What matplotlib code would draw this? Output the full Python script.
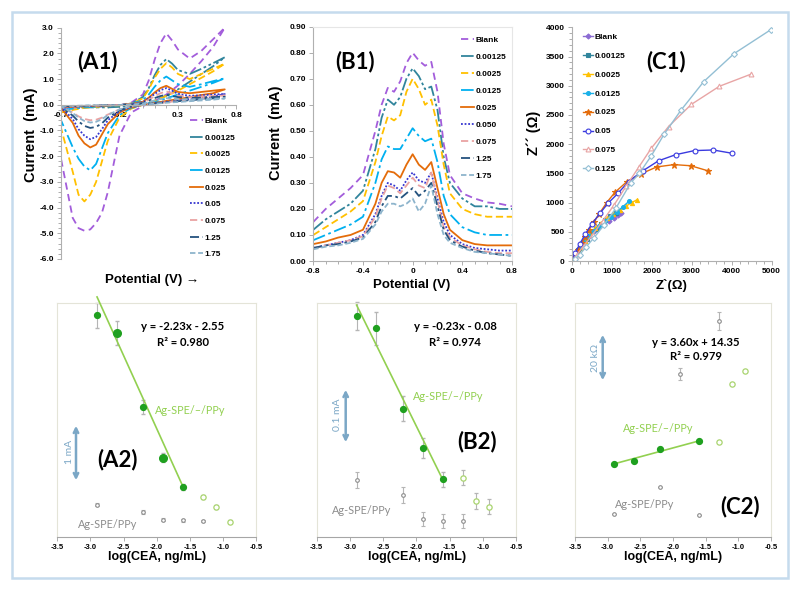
import numpy as np
import matplotlib.pyplot as plt
from matplotlib.patches import Rectangle, FancyArrowPatch
from matplotlib.ticker import MultipleLocator, FormatStrFormatter

plt.rcParams['font.family'] = ['Liberation Sans', 'DejaVu Sans']

W, H = 800, 591

# ---------------- (A1) cyclic voltammograms ----------------
# forward scan -0.7 -> 0.7 V, then reverse scan back to -0.7 V
cv_potential = [-0.7, -0.6, -0.5, -0.4, -0.3, -0.2, -0.1, 0.0, 0.05, 0.1, 0.15, 0.2, 0.25, 0.3, 0.4, 0.5, 0.6, 0.7,
                0.6, 0.5, 0.4, 0.3, 0.2, 0.1, 0.0, -0.1, -0.2, -0.3, -0.35, -0.4, -0.45, -0.5, -0.55, -0.6, -0.7]
cv_blank = [-0.15, -0.12, -0.1, -0.08, -0.05, -0.02, 0.08, 0.4, 0.95, 1.75, 2.4, 2.78, 2.5, 2.15, 1.8, 2.1, 2.55, 3.0,
            2.25, 1.7, 1.2, 0.75, 0.4, 0.15, -0.05, -0.3, -1.2, -3.4, -4.2, -4.6, -4.85, -4.9, -4.8, -4.4, -2.1]
cv_00125 = [-0.05, -0.05, -0.05, -0.04, -0.03, -0.02, 0.05, 0.3, 0.65, 1.15, 1.55, 1.78, 1.6, 1.35, 1.2, 1.4, 1.62, 1.85,
            1.5, 1.2, 0.9, 0.6, 0.35, 0.15, 0.0, -0.05, -0.08, -0.1, -0.1, -0.1, -0.1, -0.1, -0.1, -0.08, -0.06]
cv_0025 = [-0.3, -0.2, -0.12, -0.08, -0.05, -0.02, 0.05, 0.25, 0.6, 1.05, 1.4, 1.62, 1.45, 1.2, 1.0, 1.2, 1.4, 1.6,
           1.3, 1.05, 0.8, 0.55, 0.35, 0.15, 0.0, -0.15, -0.5, -1.4, -2.2, -3.0, -3.5, -3.76, -3.5, -2.6, -0.9]
cv_0125 = [-0.2, -0.15, -0.1, -0.07, -0.04, -0.02, 0.04, 0.18, 0.4, 0.7, 0.95, 1.1, 0.95, 0.8, 0.7, 0.8, 0.92, 1.03,
           0.85, 0.7, 0.55, 0.4, 0.25, 0.1, 0.0, -0.12, -0.4, -1.1, -1.7, -2.3, -2.55, -2.4, -2.1, -1.65, -0.6]
cv_025 = [-0.1, -0.08, -0.06, -0.05, -0.03, -0.01, 0.03, 0.12, 0.28, 0.48, 0.65, 0.74, 0.62, 0.5, 0.45, 0.5, 0.55, 0.6,
          0.45, 0.38, 0.3, 0.22, 0.15, 0.07, 0.0, -0.1, -0.3, -0.75, -1.15, -1.55, -1.66, -1.5, -1.2, -0.7, -0.12]
cv_05 = [-0.08, -0.07, -0.05, -0.04, -0.02, -0.01, 0.02, 0.1, 0.25, 0.42, 0.57, 0.65, 0.55, 0.42, 0.35, 0.37, 0.4, 0.42,
         0.32, 0.27, 0.22, 0.17, 0.12, 0.06, 0.0, -0.08, -0.25, -0.6, -0.95, -1.25, -1.34, -1.2, -0.95, -0.55, -0.1]
cv_075 = [-0.07, -0.06, -0.05, -0.03, -0.02, -0.01, 0.02, 0.08, 0.2, 0.33, 0.45, 0.52, 0.45, 0.36, 0.3, 0.32, 0.34, 0.36,
          0.28, 0.24, 0.2, 0.15, 0.1, 0.05, 0.0, -0.06, -0.18, -0.38, -0.5, -0.58, -0.6, -0.55, -0.45, -0.3, -0.08]
cv_125 = [-0.06, -0.05, -0.04, -0.03, -0.02, -0.01, 0.02, 0.07, 0.16, 0.26, 0.34, 0.39, 0.34, 0.3, 0.27, 0.28, 0.3, 0.31,
          0.25, 0.21, 0.18, 0.14, 0.1, 0.05, 0.0, -0.06, -0.22, -0.5, -0.72, -0.86, -0.9, -0.82, -0.65, -0.42, -0.08]
cv_175 = [-0.05, -0.04, -0.03, -0.02, -0.02, -0.01, 0.01, 0.05, 0.1, 0.17, 0.22, 0.26, 0.24, 0.22, 0.21, 0.22, 0.24, 0.25,
          0.2, 0.17, 0.14, 0.11, 0.08, 0.04, 0.0, -0.05, -0.18, -0.4, -0.56, -0.66, -0.69, -0.63, -0.5, -0.32, -0.06]
cv_labels = ["Blank", "0.00125", "0.0025", "0.0125", "0.025", "0.05", "0.075", "1.25", "1.75"]

# ---------------- (B1) differential pulse voltammograms ----------------
dpv_potential = [-0.8, -0.7, -0.6, -0.5, -0.4, -0.3, -0.25, -0.2, -0.15, -0.1, -0.05, 0.0,
                 0.05, 0.1, 0.15, 0.2, 0.25, 0.3, 0.4, 0.5, 0.6, 0.7, 0.8]
dpv_blank = [0.15, 0.2, 0.24, 0.28, 0.33, 0.5, 0.6, 0.665, 0.65, 0.69, 0.76, 0.80,
             0.77, 0.75, 0.765, 0.65, 0.45, 0.33, 0.26, 0.24, 0.225, 0.22, 0.21]
dpv_00125 = [0.12, 0.16, 0.19, 0.22, 0.27, 0.43, 0.55, 0.62, 0.60, 0.63, 0.70, 0.74,
             0.71, 0.66, 0.67, 0.58, 0.40, 0.30, 0.24, 0.21, 0.21, 0.20, 0.20]
dpv_0025 = [0.10, 0.13, 0.16, 0.19, 0.23, 0.38, 0.48, 0.555, 0.54, 0.56, 0.65, 0.70,
            0.66, 0.60, 0.62, 0.52, 0.37, 0.26, 0.20, 0.18, 0.17, 0.17, 0.17]
dpv_0125 = [0.08, 0.10, 0.12, 0.14, 0.17, 0.30, 0.39, 0.44, 0.43, 0.43, 0.47, 0.51,
            0.48, 0.46, 0.47, 0.38, 0.25, 0.18, 0.13, 0.11, 0.10, 0.10, 0.10]
dpv_025 = [0.065, 0.075, 0.09, 0.10, 0.12, 0.22, 0.30, 0.345, 0.34, 0.32, 0.37, 0.41,
           0.37, 0.35, 0.38, 0.28, 0.18, 0.12, 0.08, 0.065, 0.06, 0.06, 0.06]
dpv_050 = [0.05, 0.06, 0.07, 0.08, 0.10, 0.18, 0.25, 0.30, 0.29, 0.27, 0.31, 0.34,
           0.31, 0.30, 0.34, 0.24, 0.15, 0.10, 0.065, 0.05, 0.045, 0.04, 0.04]
dpv_075 = [0.05, 0.06, 0.07, 0.08, 0.095, 0.17, 0.24, 0.29, 0.28, 0.26, 0.29, 0.32,
           0.29, 0.28, 0.34, 0.23, 0.13, 0.09, 0.06, 0.045, 0.035, 0.03, 0.03]
dpv_125 = [0.05, 0.06, 0.065, 0.075, 0.09, 0.15, 0.21, 0.25, 0.25, 0.24, 0.26, 0.28,
           0.25, 0.27, 0.30, 0.21, 0.12, 0.08, 0.055, 0.04, 0.03, 0.025, 0.02]
dpv_175 = [0.045, 0.055, 0.06, 0.07, 0.085, 0.14, 0.19, 0.22, 0.22, 0.21, 0.22, 0.24,
           0.19, 0.22, 0.29, 0.18, 0.10, 0.07, 0.05, 0.035, 0.03, 0.025, 0.02]
dpv_labels = ["Blank", "0.00125", "0.0025", "0.0125", "0.025", "0.050", "0.075", "1.25", "1.75"]

# ---------------- (C1) Nyquist plots ----------------
eis_blank_zr = [0, 60, 140, 230, 330, 440, 550, 670, 800, 930, 1060, 1160, 1240]
eis_blank_zi = [0, 70, 160, 250, 340, 430, 510, 580, 640, 690, 740, 780, 820]
eis_00125_zr = [0, 70, 160, 260, 370, 480, 600, 720, 840, 960, 1100]
eis_00125_zi = [0, 90, 190, 290, 380, 470, 550, 630, 700, 770, 830]
eis_0025_zr = [0, 90, 200, 320, 450, 590, 740, 890, 1040, 1200, 1360, 1500, 1640]
eis_0025_zi = [0, 110, 230, 350, 460, 560, 650, 730, 800, 870, 940, 1000, 1050]
eis_0125_zr = [0, 80, 180, 290, 410, 540, 680, 830, 980, 1130, 1280, 1430]
eis_0125_zi = [0, 100, 210, 320, 420, 510, 600, 680, 760, 840, 930, 1020]
eis_025_zr = [0, 70, 150, 250, 330, 420, 560, 690, 875, 1080, 1375, 1725, 2125, 2560, 2980, 3400]
eis_025_zi = [0, 90, 190, 310, 410, 530, 670, 810, 1000, 1175, 1355, 1490, 1610, 1650, 1630, 1545]
eis_05_zr = [0, 90, 200, 340, 510, 710, 910, 1160, 1420, 1770, 2170, 2600, 3070, 3540, 4000]
eis_05_zi = [0, 140, 290, 460, 640, 820, 990, 1160, 1360, 1540, 1715, 1820, 1890, 1900, 1845]
eis_075_zr = [0, 130, 300, 520, 780, 1060, 1360, 1680, 1990, 2420, 2990, 3690, 4490]
eis_075_zi = [0, 110, 260, 450, 690, 960, 1280, 1610, 1930, 2300, 2680, 2990, 3200]
eis_125_zr = [0, 80, 200, 360, 560, 800, 1100, 1480, 1690, 1990, 2310, 2730, 3300, 4060, 4980]
eis_125_zi = [0, 30, 110, 240, 400, 610, 900, 1340, 1500, 1800, 2170, 2580, 3070, 3550, 3960]
eis_labels = ["Blank", "0.00125", "0.0025", "0.0125", "0.025", "0.05", "0.075", "0.125"]

# ---------------- calibration plots (A2, B2, C2) ----------------
log_cea = [-2.9, -2.6, -2.2, -1.9, -1.6]
log_cea_out = [-1.3, -1.1, -0.9]
log_cea_ppy = [-2.9, -2.2, -1.9, -1.6, -1.3]

a2_current = [3.637, 3.367, 2.237, 1.464, 1.016]
a2_err = [0.19, 0.18, 0.11, 0.07, 0.05]
a2_out = [0.863, 0.706, 0.49]
a2_out_err = [0.03, 0.03, 0.02]
a2_ppy = [0.75, 0.63, 0.52, 0.51, 0.50]
a2_ppy_err = [0.03, 0.03, 0.02, 0.02, 0.02]
a2_fit = (-2.23, -2.55)

b2_current = [0.569, 0.547, 0.410, 0.342, 0.289]
b2_err = [0.024, 0.028, 0.021, 0.017, 0.013]
b2_out = [0.292, 0.252, 0.242]
b2_out_err = [0.013, 0.013, 0.013]
b2_ppy = [0.288, 0.262, 0.222, 0.218, 0.218]
b2_ppy_err = [0.014, 0.014, 0.012, 0.012, 0.012]
b2_fit = (-0.23, -0.08)

c2_x = [-2.9, -2.6, -2.2, -1.6]
c2_resist = [3.87, 4.54, 6.86, 8.56]
c2_out = [8.35, 20.1, 22.87]
c2_ppy = [-6.3, -0.75, 22.14, -6.5, 33.06]
c2_ppy_err = [0.0, 0.0, 1.25, 0.0, 1.8]
c2_fit = (3.60, 14.35)


def fx(x):
    return x / W


def fy(y):
    return 1 - y / H


def rect(x0, y0, x1, y1):
    return [x0 / W, 1 - y1 / H, (x1 - x0) / W, (y1 - y0) / H]


def ftext(x, y, s, **kw):
    kw.setdefault('ha', 'center')
    kw.setdefault('va', 'center')
    fig.text(fx(x), fy(y), s, **kw)


def style_ticks(ax, size=6):
    ax.tick_params(which='both', direction='out', color='#a0a0a0', width=0.6, labelsize=size)
    ax.tick_params(which='major', length=3, pad=2)
    ax.tick_params(which='minor', length=2)
    for lab in ax.get_xticklabels() + ax.get_yticklabels():
        lab.set_fontweight('bold')


fig = plt.figure(figsize=(8, 5.91), dpi=100)

line_colors = ["#a35ddb", "#31859c", "#ffc000", "#00b0f0", "#e46c0a", "#3535d0", "#e9a3a3", "#24527e", "#8db4cc"]
line_dashes = [(0, (4, 2.5)), (0, (7, 1.5, 1.5, 1.5, 1.5, 1.5)), (0, (4, 2)), (0, (7, 2, 1.5, 2)), '-',
               (0, (1, 1)), (0, (4, 2)), (0, (5, 2, 1.5, 2)), (0, (3, 1.5))]
leg_font = {'size': 6, 'weight': 'bold'}

# ---- A1 ----
ax = fig.add_axes(rect(61, 27.7, 236.5, 259))
cv_curves = [cv_blank, cv_00125, cv_0025, cv_0125, cv_025, cv_05, cv_075, cv_125, cv_175]
for cur, lab, c, ls in zip(cv_curves, cv_labels, line_colors, line_dashes):
    ax.plot(cv_potential, cur, color=c, ls=ls, lw=1.3, label=lab)
ax.set_xlim(-0.7, 0.8)
ax.set_ylim(-6, 3)
ax.spines['bottom'].set_position(('data', 0))
for s in ['top', 'right']:
    ax.spines[s].set_visible(False)
for s in ['left', 'bottom']:
    ax.spines[s].set_color('#b0b0b0')
ax.set_xticks([-0.7, -0.2, 0.3, 0.8])
ax.xaxis.set_minor_locator(MultipleLocator(0.1))
ax.yaxis.set_major_locator(MultipleLocator(1.0))
ax.yaxis.set_minor_locator(MultipleLocator(0.2))
ax.xaxis.set_major_formatter(FormatStrFormatter('%.1f'))
ax.yaxis.set_major_formatter(FormatStrFormatter('%.1f'))
style_ticks(ax)
ax.legend(loc='upper left', bbox_to_anchor=(fx(190), fy(117)), bbox_transform=fig.transFigure,
          frameon=False, prop=leg_font, handlelength=1.5, handletextpad=0.2,
          labelspacing=1.06, borderpad=0, borderaxespad=0)
ftext(98, 62, "(A1)", fontsize=16, fontweight='bold', family=['Lato', 'DejaVu Sans'])
ftext(31, 135, "Current  (mA)", fontsize=10.5, fontweight='bold', rotation=90)
ftext(152, 280, "Potential (V) \u2192", fontsize=9.5, fontweight='bold')

# ---- B1 ----
ax = fig.add_axes(rect(313.3, 26.7, 512, 261))
dpv_curves = [dpv_blank, dpv_00125, dpv_0025, dpv_0125, dpv_025, dpv_050, dpv_075, dpv_125, dpv_175]
for cur, lab, c, ls in zip(dpv_curves, dpv_labels, line_colors, line_dashes):
    ax.plot(dpv_potential, cur, color=c, ls=ls, lw=1.3, label=lab)
ax.set_xlim(-0.8, 0.8)
ax.set_ylim(0, 0.9)
for s in ['top', 'right']:
    ax.spines[s].set_color('#e6e6e6')
for s in ['left', 'bottom']:
    ax.spines[s].set_color('#b0b0b0')
ax.xaxis.set_minor_locator(MultipleLocator(0.1))
ax.yaxis.set_major_locator(MultipleLocator(0.1))
ax.yaxis.set_major_formatter(FormatStrFormatter('%.2f'))
ax.set_xticks([-0.8, -0.4, 0, 0.4, 0.8])
ax.set_xticklabels(['-0.8', '-0.4', '0', '0.4', '0.8'])
style_ticks(ax)
ax.legend(loc='upper left', bbox_to_anchor=(fx(461), fy(36)), bbox_transform=fig.transFigure,
          frameon=False, prop=leg_font, handlelength=1.5, handletextpad=0.2,
          labelspacing=1.1, borderpad=0, borderaxespad=0)
ftext(355, 62, "(B1)", fontsize=16, fontweight='bold', family=['Lato', 'DejaVu Sans'])
ftext(276, 133, "Current  (mA)", fontsize=10.5, fontweight='bold', rotation=90)
ftext(412, 285, "Potential (V)", fontsize=9.5, fontweight='bold')

# ---- C1 ----
ax = fig.add_axes(rect(571.7, 27.3, 771.7, 261))
eis_zr = [eis_blank_zr, eis_00125_zr, eis_0025_zr, eis_0125_zr, eis_025_zr, eis_05_zr, eis_075_zr, eis_125_zr]
eis_zi = [eis_blank_zi, eis_00125_zi, eis_0025_zi, eis_0125_zi, eis_025_zi, eis_05_zi, eis_075_zi, eis_125_zi]
eis_colors = ["#8b6bd3", "#31859c", "#ffc000", "#1ab0e8", "#e46c0a", "#3a3adf", "#e8a5a5", "#93bfd4"]
eis_markers = ['D', 's', '^', 'o', '*', 'o', '^', 'D']
eis_msize = [2.6, 3, 3, 2.8, 4.5, 3.5, 3.5, 3]
eis_open = [False, False, False, False, False, True, True, True]
for zr, zi, lab, c, m, ms, op in zip(eis_zr, eis_zi, eis_labels, eis_colors, eis_markers, eis_msize, eis_open):
    ax.plot(zr, zi, color=c, lw=1.0, marker=m, ms=ms, mfc='white' if op else c, mec=c, mew=0.8, label=lab)
ax.set_xlim(0, 5000)
ax.set_ylim(0, 4000)
for s in ['top', 'right']:
    ax.spines[s].set_visible(False)
for s in ['left', 'bottom']:
    ax.spines[s].set_color('#b0b0b0')
ax.xaxis.set_major_locator(MultipleLocator(1000))
ax.xaxis.set_minor_locator(MultipleLocator(200))
ax.yaxis.set_major_locator(MultipleLocator(500))
ax.yaxis.set_minor_locator(MultipleLocator(100))
style_ticks(ax)
ax.legend(loc='upper left', bbox_to_anchor=(fx(583), fy(33)), bbox_transform=fig.transFigure,
          frameon=False, prop=leg_font, handlelength=1.2, handletextpad=0.15,
          labelspacing=1.33, borderpad=0, borderaxespad=0)
ftext(666, 62, "(C1)", fontsize=16, fontweight='bold', family=['Lato', 'DejaVu Sans'])
ftext(534, 133, "Z\u00b4\u00b4 (\u03a9)", fontsize=10.5, fontweight='bold', rotation=90)
ftext(672, 286, "Z`(\u03a9)", fontsize=9.5, fontweight='bold')

# ---- bottom row: calibration plots ----
green = "#1fa01f"
lime = "#92d050"
lime_open = "#a9d46f"
grey = "#8c8c8c"
bar_blue = "#7ba7c6"
lato = ['Lato', 'DejaVu Sans']


def calib_axes(x0, x1, ylim):
    ax = fig.add_axes(rect(x0, 303.3, x1, 537.3))
    ax.set_xlim(-3.5, -0.5)
    ax.set_ylim(*ylim)
    ax.set_yticks([])
    ax.xaxis.set_major_locator(MultipleLocator(0.5))
    ax.xaxis.set_major_formatter(FormatStrFormatter('%.1f'))
    for s in ['top', 'right', 'left']:
        ax.spines[s].set_color('#e4e4d8')
    ax.spines['bottom'].set_color('#a6a6a6')
    style_ticks(ax, size=5.5)
    return ax


def calib_plot(ax, x, y, err, xo, yo, yo_err, xp, yp, yp_err, fit, big=(1, 3)):
    ax.errorbar(xp, yp, yerr=yp_err, fmt='o', ms=2.6, mfc='white', mec=grey, mew=0.8,
                ecolor='#b5b5b5', elinewidth=0.8, capsize=1.2, clip_on=False)
    ax.errorbar(xo, yo, yerr=yo_err, fmt='o', ms=3.8, mfc='white', mec=lime_open, mew=0.9,
                ecolor='#b5b5b5', elinewidth=0.8, capsize=1.2, clip_on=False)
    if err is not None:
        ax.errorbar(x, y, yerr=err, fmt='none', ecolor='#b5b5b5', elinewidth=0.8, capsize=1.2, clip_on=False)
    sizes = [5.5 if i in big else 4.2 for i in range(len(x))]
    for xi, yi, s in zip(x, y, sizes):
        ax.plot(xi, yi, 'o', ms=s, color=green, zorder=4, clip_on=False)
    xf = np.array([x[0], x[-1]])
    ax.plot(xf, fit[0] * xf + fit[1], color=lime, lw=1.2, zorder=3, clip_on=False)


def scale_bar(x, y0, y1, label, lx, ly):
    fig.add_artist(FancyArrowPatch((fx(x), fy(y0)), (fx(x), fy(y1)), transform=fig.transFigure,
                                   arrowstyle='<->', mutation_scale=8, color=bar_blue, lw=1.8))
    ftext(lx, ly, label, fontsize=7.5, color=bar_blue, rotation=90, family=lato)


# A2
ax = calib_axes(57.3, 256, (0.25, 3.82))
calib_plot(ax, log_cea, a2_current, a2_err, log_cea_out, a2_out, a2_out_err,
           log_cea_ppy, a2_ppy, a2_ppy_err, a2_fit)
ftext(183, 326, "y = -2.23x - 2.55", fontsize=8.2, fontweight='bold', family=lato)
ftext(183, 342, "R\u00b2 = 0.980", fontsize=8.2, fontweight='bold', family=lato)
ftext(190, 410, "Ag-SPE/\u2013/PPy", fontsize=7.8, color=lime, family=lato)
ftext(108, 525, "Ag-SPE/PPy", fontsize=7.8, color=grey, family=lato)
ftext(117, 460, "(A2)", fontsize=16, fontweight='bold', family=lato)
scale_bar(76, 423, 483, "1 mA", 69, 452)
ftext(157, 557, "log(CEA, ng/mL)", fontsize=9, fontweight='bold')

# B2
ax = calib_axes(316.7, 516, (0.19, 0.59))
calib_plot(ax, log_cea, b2_current, b2_err, log_cea_out, b2_out, b2_out_err,
           log_cea_ppy, b2_ppy, b2_ppy_err, b2_fit, big=())
ftext(455, 326, "y = -0.23x - 0.08", fontsize=8.2, fontweight='bold', family=lato)
ftext(455, 342, "R\u00b2 = 0.974", fontsize=8.2, fontweight='bold', family=lato)
ftext(448, 397, "Ag-SPE/\u2013/PPy", fontsize=7.8, color=lime, family=lato)
ftext(362, 511, "Ag-SPE/PPy", fontsize=7.8, color=grey, family=lato)
ftext(477, 442, "(B2)", fontsize=16, fontweight='bold', family=lato)
scale_bar(345.7, 387, 445, "0.1 mA", 337, 415)
ftext(417, 557, "log(CEA, ng/mL)", fontsize=9, fontweight='bold')

# C2
ax = calib_axes(575, 771, (-11.05, 36.6))
calib_plot(ax, c2_x, c2_resist, None, log_cea_out, c2_out, [0, 0, 0],
           log_cea_ppy, c2_ppy, c2_ppy_err, c2_fit, big=())
ftext(696, 342, "y = 3.60x + 14.35", fontsize=8.2, fontweight='bold', family=lato)
ftext(696, 357, "R\u00b2 = 0.979", fontsize=8.2, fontweight='bold', family=lato)
ftext(658, 428, "Ag-SPE/\u2013/PPy", fontsize=7.8, color=lime, family=lato)
ftext(645, 505, "Ag-SPE/PPy", fontsize=7.8, color=grey, family=lato)
ftext(740, 507, "(C2)", fontsize=16, fontweight='bold', family=lato)
scale_bar(602.7, 332, 383, "20 k\u03a9", 595, 358)
ftext(673, 557, "log(CEA, ng/mL)", fontsize=9, fontweight='bold')

# light blue frame around the whole figure
fig.add_artist(Rectangle((fx(12), fy(578)), 776 / W, 566 / H, transform=fig.transFigure,
                         fill=False, ec='#c5dbed', lw=1.8))

fig.savefig('out.png', dpi=100)
